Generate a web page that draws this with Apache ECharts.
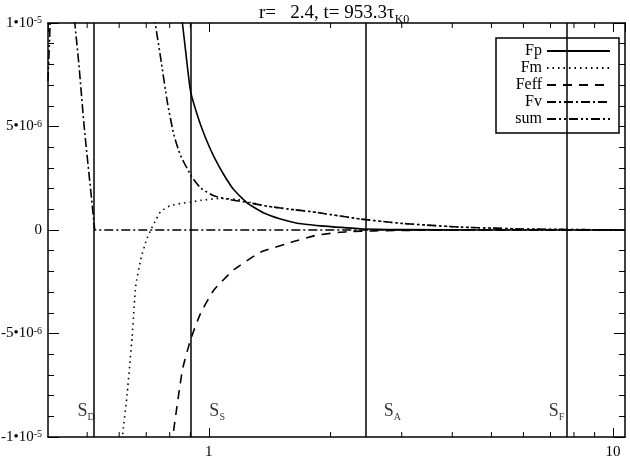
<!DOCTYPE html>
<html>
<head>
<meta charset="utf-8">
<script src="https://cdn.jsdelivr.net/npm/echarts@6/dist/echarts.min.js"></script>
<style>
  html, body { margin: 0; padding: 0; background: #fff; }
  #chart { width: 630px; height: 458px; }
</style>
</head>
<body>
<div id="chart"></div>
<script>
// y values are in units of 1e-6
const seriesNames = ['Fp', 'Fm', 'Feff', 'Fv', 'sum']

const fp = [[0.83, 12], [0.86, 10.0], [0.88, 8.3], [0.901, 6.7], [0.945, 5.32],
  [0.991, 4.25], [1.029, 3.55], [1.089, 2.67], [1.153, 1.94], [1.245, 1.30], [1.368, 0.82], [1.504, 0.53],
  [1.655, 0.33], [1.784, 0.25], [1.89, 0.20], [2.37, 0.06], [3.0, 0.02], [5.0, 0.0], [10.7, 0.0]]

const fm = [[0.595, -12.5], [0.611, -10], [0.628, -7.9], [0.646, -5.15],
  [0.659, -2.73], [0.678, -1.44], [0.700, -0.5], [0.718, 0.0], [0.74, 0.5], [0.76, 0.9], [0.80, 1.16],
  [0.851, 1.28], [0.901, 1.35], [0.954, 1.43], [1.069, 1.53], [1.175, 1.47], [1.268, 1.33], [1.394, 1.15],
  [1.623, 0.98], [1.784, 0.89], [1.89, 0.82], [2.37, 0.53], [3.0, 0.32], [4.19, 0.14], [6.0, 0.05], [10.7, 0.0]]

const feff = [[0.79, -12], [0.814, -10], [0.860, -6.76], [0.901, -5.3],
  [0.954, -4.02], [1.03, -2.89], [1.153, -1.92], [1.34, -1.08], [1.62, -0.56], [1.85, -0.25],
  [2.2, -0.08], [3.0, -0.02], [5.0, 0.0], [10.7, 0.0]]

const fv = [[0.43, 20], [0.45, 13.5], [0.466, 10], [0.477, 8.0], [0.491, 5.08], [0.500, 3.55],
  [0.510, 1.94], [0.518, 0.65], [0.522, 0.0], [10.7, 0.0]]

const sum = [[0.40, 7.2], [0.405, 10], [0.42, 16], [0.70, 14], [0.737, 10], [0.760, 8.3],
  [0.789, 6.2], [0.819, 4.6], [0.851, 3.6], [0.906, 2.59], [0.954, 2.03], [1.029, 1.65], [1.131, 1.46],
  [1.245, 1.33], [1.394, 1.15], [1.623, 0.98], [1.784, 0.89], [1.89, 0.82], [2.37, 0.53], [3.0, 0.32],
  [4.19, 0.14], [6.0, 0.05], [10.7, 0.0]]

// vertical marker lines and their labels
const markerX = [0.522, 0.901, 2.45, 7.66]
const markerLabelX = [0.472, 1.0, 2.70, 6.91]
const markerSubs = ['D', 'S', 'A', 'F']
const markerLabelY = -8.74

const xMinorTicks = [0.5, 0.6, 0.7, 0.8, 0.9, 2, 3, 4, 5, 6, 7, 8, 9]
const yTickLabels = [['-1•10', '-5'], ['-5•10', '-6'], ['0', ''], ['5•10', '-6'], ['1•10', '-5']]

const serif = 'Liberation Serif'
const dashes = {
  Fp: 'solid',
  Fm: [1.5, 4],
  Feff: [9, 7],
  Fv: [9, 3, 2, 3],
  sum: [9, 3, 2, 3, 2, 3]
}
const dataByName = {Fp: fp, Fm: fm, Feff: feff, Fv: fv, sum: sum}

const chart = echarts.init(document.getElementById('chart'), null, {renderer: 'canvas'})

const xAxisBase = {
  type: 'log',
  min: 0.4,
  max: 10.7,
  logBase: 10,
  axisLine: {show: true, onZero: false, lineStyle: {color: '#000', width: 1.5}},
  axisTick: {show: true, inside: true, length: 9, lineStyle: {color: '#000', width: 1}},
  splitLine: {show: false}
}
const yAxisBase = {
  type: 'value',
  min: -10,
  max: 10,
  interval: 5,
  axisLine: {show: true, onZero: false, lineStyle: {color: '#000', width: 1.5}},
  axisTick: {show: true, inside: true, length: 11, lineStyle: {color: '#000', width: 1}},
  minorTick: {show: true, splitNumber: 5, length: 6, lineStyle: {color: '#000', width: 1}},
  splitLine: {show: false}
}

const lineSeries = seriesNames.map(name => ({
  name: name,
  type: 'line',
  data: dataByName[name],
  symbol: 'none',
  showSymbol: false,
  smooth: name === 'Fv' ? false : 0.15,
  clip: true,
  lineStyle: {color: '#000', width: 1.6, type: dashes[name]},
  itemStyle: {color: '#000'},
  z: 3
}))

const option = {
  animation: false,
  backgroundColor: '#fff',
  title: {
    text: '{a|r=   2.4, t= 953.3τ}{b|K0}',
    left: 254,
    top: -1,
    textStyle: {
      fontWeight: 'normal',
      rich: {
        a: {fontFamily: serif, fontSize: 19, fontWeight: 'normal', color: '#000', verticalAlign: 'bottom'},
        b: {fontFamily: serif, fontSize: 12, fontWeight: 'normal', color: '#000', verticalAlign: 'bottom', padding: [0, 0, -3, 0]}
      }
    }
  },
  grid: {left: 48, right: 5, top: 23, bottom: 21, containLabel: false, outerBoundsMode: 'none'},
  legend: {
    data: seriesNames,
    orient: 'vertical',
    right: 11,
    top: 38,
    align: 'right',
    itemWidth: 63,
    itemHeight: 12,
    itemGap: 1,
    padding: [5, 8, 6, 8],
    borderColor: '#000',
    borderWidth: 1.5,
    borderRadius: 0,
    backgroundColor: '#fff',
    selectedMode: false,
    itemStyle: {color: 'rgba(0,0,0,0)', borderColor: 'rgba(0,0,0,0)', borderWidth: 0},
    formatter: name => '{t|' + name + '}',
    textStyle: {
      color: '#000',
      rich: {t: {fontFamily: serif, fontSize: 16, width: 38, align: 'right', lineHeight: 14}}
    }
  },
  xAxis: [
    Object.assign({}, xAxisBase, {
      position: 'bottom',
      axisLabel: {
        show: true, showMinLabel: false, showMaxLabel: false, margin: 8,
        fontFamily: serif, fontSize: 15, color: '#000',
        formatter: v => String(Math.round(v))
      }
    }),
    Object.assign({}, xAxisBase, {position: 'top', axisLabel: {show: false}})
  ],
  yAxis: [
    Object.assign({}, yAxisBase, {
      position: 'left',
      axisLabel: {
        show: true, margin: 6,
        formatter: v => {
          const lab = yTickLabels[Math.round((v + 10) / 5)]
          return lab[1] ? '{m|' + lab[0] + '}{s|' + lab[1] + '}' : '{m|' + lab[0] + '}'
        },
        rich: {
          m: {fontFamily: serif, fontSize: 15, color: '#000', verticalAlign: 'bottom'},
          s: {fontFamily: serif, fontSize: 10, color: '#000', verticalAlign: 'top'}
        }
      }
    }),
    Object.assign({}, yAxisBase, {position: 'right', axisLabel: {show: false}})
  ],
  series: [
    ...lineSeries,
    {
      name: 'markers',
      type: 'scatter',
      data: markerLabelX.map((x, i) => ({value: [x, markerLabelY], sub: markerSubs[i]})),
      symbolSize: 1,
      itemStyle: {color: 'rgba(0,0,0,0)'},
      silent: true,
      label: {
        show: true,
        position: 'right',
        distance: 0,
        formatter: p => '{s|S}{b|' + p.data.sub + '}',
        rich: {
          s: {fontFamily: serif, fontSize: 18, color: '#000', verticalAlign: 'bottom'},
          b: {fontFamily: serif, fontSize: 10, color: '#000', verticalAlign: 'bottom', padding: [0, 0, -2, 0]}
        }
      },
      markLine: {
        silent: true,
        symbol: ['none', 'none'],
        label: {show: false},
        lineStyle: {color: '#000', width: 1.5, type: 'solid'},
        data: markerX.map(x => ({xAxis: x}))
      },
      z: 2
    },
    {
      name: 'minorTicks',
      type: 'custom',
      silent: true,
      data: xMinorTicks.map(v => [v, 0]),
      renderItem: (params, api) => {
        const b = api.coord([api.value(0), -10])
        const t = api.coord([api.value(0), 10])
        const style = {stroke: '#000', lineWidth: 1}
        return {
          type: 'group',
          children: [
            {type: 'line', shape: {x1: b[0], y1: b[1], x2: b[0], y2: b[1] - 5}, style: style},
            {type: 'line', shape: {x1: t[0], y1: t[1], x2: t[0], y2: t[1] + 5}, style: style}
          ]
        }
      },
      z: 4
    }
  ]
}

chart.setOption(option)
</script>
</body>
</html>
